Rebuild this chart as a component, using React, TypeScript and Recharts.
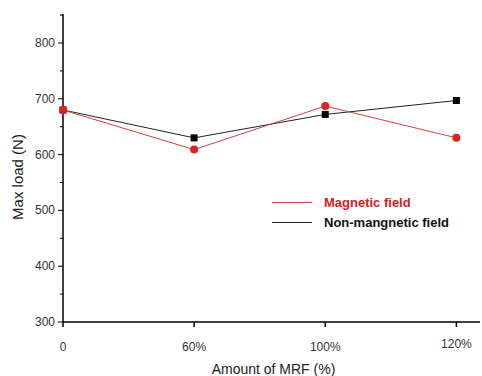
import React from "react";
import { LineChart, Line, XAxis, YAxis, Legend } from "recharts";

const categories = ["0", "60%", "100%", "120%"];
const magnetic = [680, 609, 687, 630];
const nonMagnetic = [680, 630, 672, 697];
const yTicks = [300, 350, 400, 450, 500, 550, 600, 650, 700, 750, 800, 850];

const data = categories.map((c, i) => ({ idx: i, cat: c, magnetic: magnetic[i], nonMagnetic: nonMagnetic[i] }));

const FONT = "Arial, 'Liberation Sans', sans-serif";

const YTick = (props: any) => {
  const { x, y, payload } = props;
  const major = payload.value % 100 === 0;
  return (
    <g>
      <line x1={x - (major ? 5 : 3)} x2={x} y1={y} y2={y} stroke="#000" strokeWidth={1} />
      {major && (
        <text x={x - 8} y={y} dy={4} textAnchor="end" fontSize={12} fill="#333" fontFamily={FONT}>
          {payload.value}
        </text>
      )}
    </g>
  );
};

const XTick = (props: any) => {
  const { x, y, payload } = props;
  const label = categories[payload.value];
  return (
    <g>
      <line x1={x} x2={x} y1={y} y2={y + 5} stroke="#000" strokeWidth={1.5} />
      <text x={x} y={y + 29} textAnchor="middle" fontSize={12} fill="#333" fontFamily={FONT} dy={label === "120%" ? -3 : 0}>
        {label}
      </text>
    </g>
  );
};

const YLabel = (props: any) => {
  const vb = props.viewBox || { x: 0, y: 14, width: 63, height: 308 };
  const cx = vb.x + 17;
  const cy = vb.y + vb.height / 2 + 9;
  return (
    <text x={cx} y={cy} transform={`rotate(-90,${cx},${cy})`} textAnchor="middle" dominantBaseline="central" fontSize={15} fill="#222" fontFamily={FONT}>
      Max load (N)
    </text>
  );
};

const Square = (props: any) => {
  const { cx, cy } = props;
  return <rect x={cx - 3.5} y={cy - 3.5} width={7} height={7} fill="#000" />;
};

const renderLegend = () => (
  <div style={{ fontFamily: FONT, fontWeight: "bold", fontSize: 13 }}>
    <div style={{ display: "flex", alignItems: "center", height: 20 }}>
      <div style={{ width: 40, height: 1, background: "#d04040", marginRight: 12 }} />
      <span style={{ color: "#d42020" }}>Magnetic field</span>
    </div>
    <div style={{ display: "flex", alignItems: "center", height: 20 }}>
      <div style={{ width: 40, height: 1, background: "#222", marginRight: 12 }} />
      <span style={{ color: "#111" }}>Non-mangnetic field</span>
    </div>
  </div>
);

export default function App() {
  return (
    <div style={{ position: "absolute", left: 0, top: 0, background: "#fff" }}>
      <LineChart width={482} height={376} data={data} margin={{ top: 14, right: 2, left: 0, bottom: 0 }}>
        <XAxis
          dataKey="idx"
          type="number"
          domain={[0, 3.18]}
          ticks={[0, 1, 2, 3]}
          height={54}
          tickSize={0}
          tickMargin={0}
          tick={<XTick />}
          stroke="#000"
          strokeWidth={1.5}
          label={{ value: "Amount of MRF (%)", position: "insideBottom", offset: 0, dy: -2, dx: 2, fontSize: 14, fill: "#222", fontFamily: FONT }}
        />
        <YAxis
          type="number"
          domain={[300, 852]}
          ticks={yTicks}
          width={63}
          tickSize={0}
          tickMargin={0}
          tick={<YTick />}
          stroke="#000"
          strokeWidth={1.5}
          interval={0}
          label={{ content: <YLabel /> }}
        />
        <Legend content={renderLegend} layout="horizontal" verticalAlign="middle" align="center" wrapperStyle={{ left: 272, top: 192, width: 200 }} />
        <Line dataKey="nonMagnetic" stroke="#222" strokeWidth={1} dot={<Square />} isAnimationActive={false} />
        <Line dataKey="magnetic" stroke="#d04040" strokeWidth={1} dot={{ r: 4, fill: "#dd2222", stroke: "#dd2222", strokeWidth: 0 }} isAnimationActive={false} />
      </LineChart>
    </div>
  );
}
